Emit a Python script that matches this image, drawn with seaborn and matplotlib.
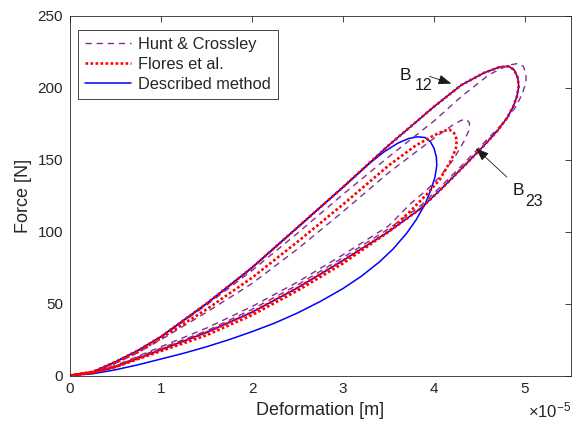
import matplotlib
matplotlib.use("Agg")
import matplotlib.pyplot as plt
import seaborn as sns
import pandas as pd

# Deformation in units of 1e-5 m, force in N
# ---- Contact B12 ----
dm12_x = [0, 0.25, 0.5, 0.75, 1.0, 1.5, 2.0, 2.5, 3.0, 3.5, 4.0, 4.3, 4.55, 4.72, 4.82, 4.88, 4.92, 4.93, 4.91, 4.87, 4.8, 4.7, 4.55, 4.35, 4.1, 3.85, 3.5, 3.0, 2.5, 2.0, 1.5, 1.0, 0.75, 0.5, 0.25, 0]
dm12_y = [0, 2.5, 9.5, 17.5, 27, 50, 75, 103, 131, 160, 187, 202, 210.5, 214.5, 215, 212.5, 207, 201, 194, 187, 179, 170.5, 160, 147, 131, 116, 100, 80, 61, 44, 30, 18, 12, 6, 2, 0]
fl12_x = [0, 0.25, 0.5, 0.75, 1.0, 1.5, 2.0, 2.5, 3.0, 3.5, 4.0, 4.3, 4.55, 4.72, 4.82, 4.88, 4.92, 4.93, 4.91, 4.87, 4.8, 4.7, 4.55, 4.35, 4.1, 3.85, 3.5, 3.0, 2.5, 2.0, 1.5, 1.0, 0.75, 0.5, 0.25, 0]
fl12_y = [0, 2.5, 9.5, 17.5, 27, 50, 75, 103, 131, 160, 187, 202, 210.5, 214.5, 215, 212.5, 207, 201, 194, 187, 179, 170.5, 160, 147, 131, 116, 100, 80, 61, 44, 30, 18, 12, 6, 2, 0]
hc12_x = [0, 0.25, 0.5, 0.75, 1.0, 1.5, 2.0, 2.5, 3.0, 3.5, 4.0, 4.3, 4.6, 4.8, 4.92, 4.98, 5.01, 5.01, 4.97, 4.9, 4.78, 4.55, 4.35, 4.1, 3.85, 3.5, 3.0, 2.5, 2.0, 1.5, 1.0, 0.75, 0.5, 0.25, 0]
hc12_y = [0, 2.5, 9, 17, 26.5, 49, 73, 99, 126, 152, 177, 194, 209, 215.5, 217, 215, 210, 204, 196, 187, 177, 162, 149, 133, 118, 102, 82, 63, 46, 31, 19, 13, 6.5, 2, 0]

# ---- Contact B23 ----
dm23_x = [0, 0.25, 0.5, 0.75, 1.0, 1.5, 2.0, 2.5, 3.0, 3.3, 3.45, 3.6, 3.72, 3.82, 3.9, 3.96, 4.0, 4.025, 4.03, 4.01, 3.97, 3.9, 3.8, 3.7, 3.55, 3.4, 3.2, 3.0, 2.75, 2.5, 2.25, 2.0, 1.75, 1.5, 1.25, 1.0, 0.75, 0.5, 0.25, 0]
dm23_y = [0, 2.5, 9.5, 17.5, 27, 50, 75, 103, 131, 148, 155.5, 161.5, 164.8, 166, 165.5, 162.5, 158, 152, 146, 138, 130, 119, 108, 99, 88, 79, 69, 60.5, 51.5, 43.5, 36.5, 30.5, 25, 20, 15.5, 11.5, 7.5, 4, 1.2, 0]
fl23_x = [0, 0.25, 0.5, 0.75, 1.0, 1.5, 2.0, 2.5, 3.0, 3.5, 3.8, 4.0, 4.1, 4.17, 4.22, 4.25, 4.24, 4.19, 4.06, 3.92, 3.75, 3.5, 3.0, 2.5, 2.0, 1.5, 1.0, 0.75, 0.5, 0.25, 0]
fl23_y = [0, 2.5, 9, 16.5, 26, 46, 68, 93, 119, 146, 160, 167, 170, 171, 168.5, 164, 158, 150, 136, 126, 115, 100, 78, 59, 42, 28, 17, 11.5, 6, 2, 0]
hc23_x = [0, 0.25, 0.5, 0.75, 1.0, 1.5, 2.0, 2.5, 3.0, 3.5, 4.0, 4.2, 4.3, 4.36, 4.39, 4.38, 4.33, 4.21, 4.06, 3.92, 3.75, 3.5, 3.0, 2.5, 2.0, 1.5, 1.0, 0.75, 0.5, 0.25, 0]
hc23_y = [0, 2.5, 8.5, 16, 25, 44, 64, 88, 114, 141, 165, 174, 177.5, 178, 175.5, 170, 163, 150, 138, 129, 120, 104, 84, 65, 48, 33, 20, 13.5, 7, 2, 0]

models = ["Hunt & Crossley", "Flores et al.", "Described method"]

def frame(xs, ys, model, contact):
    return pd.DataFrame({"x": xs, "y": ys, "model": model, "contact": contact,
                         "order": range(len(xs))})

df = pd.concat([
    frame(dm12_x, dm12_y, models[2], "B12"),
    frame(dm23_x, dm23_y, models[2], "B23"),
    frame(hc12_x, hc12_y, models[0], "B12"),
    frame(hc23_x, hc23_y, models[0], "B23"),
    frame(fl12_x, fl12_y, models[1], "B12"),
    frame(fl23_x, fl23_y, models[1], "B23"),
], ignore_index=True)

sns.set_theme(style="white")
plt.rcParams["font.family"] = ["Liberation Sans", "DejaVu Sans"]
plt.rcParams["mathtext.fontset"] = "custom"
plt.rcParams["mathtext.rm"] = "Liberation Sans"
plt.rcParams["lines.solid_joinstyle"] = "round"
plt.rcParams["lines.dash_joinstyle"] = "round"

styles = {
    "Hunt & Crossley": dict(color="#7E2F8E", lw=1.0, ls=(0, (4.5, 3.5))),
    "Flores et al.": dict(color="#FF0000", lw=1.9, ls=(0, (1.0, 0.9))),
    "Described method": dict(color="#0000FF", lw=1.1, ls="-"),
}

fig = plt.figure(figsize=(5.83, 4.30), dpi=100)
ax = fig.add_axes([0.1201, 0.1267, 0.8586, 0.8361])

handles = {}
for model in ["Described method", "Hunt & Crossley", "Flores et al."]:
    st = styles[model]
    for contact in ["B12", "B23"]:
        sub = df[(df.model == model) & (df.contact == contact)]
        sns.lineplot(data=sub, x="x", y="y", sort=False, estimator=None, ax=ax,
                     color=st["color"], linewidth=st["lw"], linestyle=st["ls"],
                     legend=False)
    handles[model] = ax.lines[-1]

ax.set_xlim(0, 5.5)
ax.set_ylim(0, 250)
ax.set_xticks([0, 1, 2, 3, 4, 5])
ax.set_yticks([0, 50, 100, 150, 200, 250])
ax.set_xlabel("Deformation [m]", fontsize=13, color="#262626", labelpad=4)
ax.set_ylabel("Force [N]", fontsize=13, color="#262626", labelpad=4)
ax.tick_params(direction="in", length=4, width=0.6, top=True, right=True,
               labelsize=11, colors="#262626", pad=5)
for sp in ax.spines.values():
    sp.set_linewidth(0.6)
    sp.set_color("#262626")
    sp.set_visible(True)

ax.text(1.002, -0.07, r"$\times\mathregular{10^{-5}}$", transform=ax.transAxes,
        ha="right", va="top", fontsize=12, color="#262626")

leg = ax.legend([handles[m] for m in models], models, loc="upper left",
                bbox_to_anchor=(0.016, 0.962), borderaxespad=0, fontsize=11.8,
                frameon=True, fancybox=False, edgecolor="#262626", framealpha=1,
                handlelength=2.8, handletextpad=0.4, labelspacing=0.3,
                borderpad=0.45)
leg.get_frame().set_linewidth(0.6)

arrow = dict(arrowstyle="-|>,head_length=0.8,head_width=0.3", color="k", lw=0.6,
             mutation_scale=10, shrinkA=0, shrinkB=0)
ax.annotate("", xy=(4.19, 203), xytext=(3.95, 208), arrowprops=arrow)
ax.text(3.62, 205.5, "B", fontsize=12.5, ha="left", va="baseline", color="k")
ax.text(3.79, 198.5, "12", fontsize=11.5, ha="left", va="baseline", color="k")
ax.annotate("", xy=(4.46, 158), xytext=(4.80, 138), arrowprops=arrow)
ax.text(4.86, 125.5, "B", fontsize=12.5, ha="left", va="baseline", color="k")
ax.text(5.0, 118, "23", fontsize=11.5, ha="left", va="baseline", color="k")

fig.savefig("out.png", dpi=100)
